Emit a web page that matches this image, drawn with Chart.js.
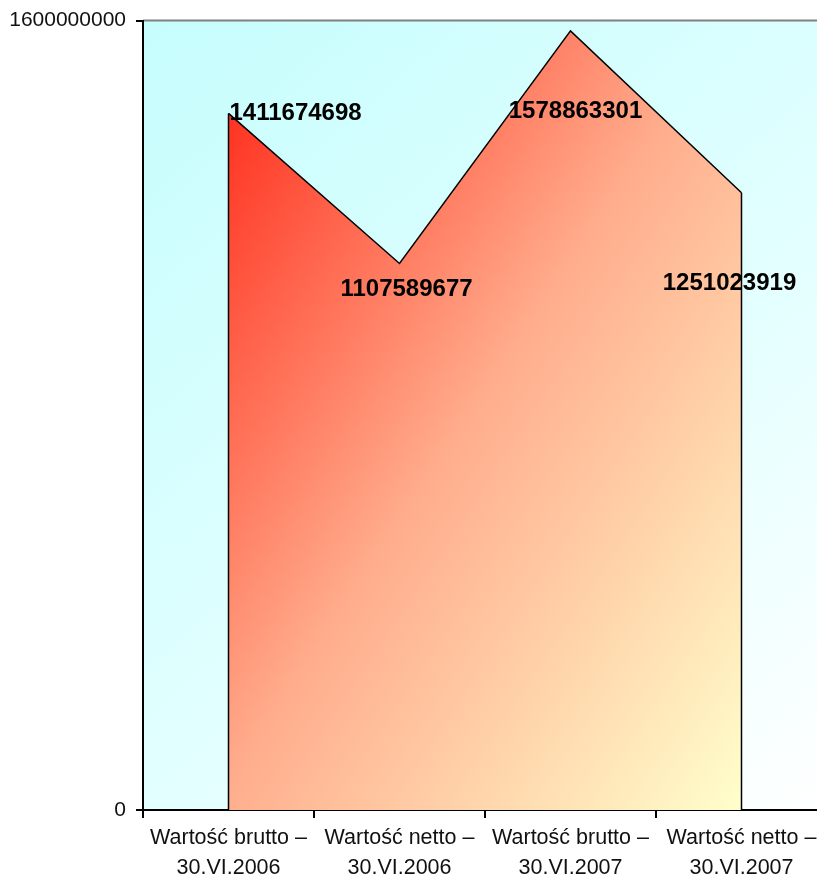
<!DOCTYPE html>
<html>
<head>
<meta charset="utf-8">
<script src="https://cdn.jsdelivr.net/npm/chart.js@4"></script>
<style>
  html, body { margin: 0; padding: 0; background: #fff; overflow: hidden; }
  #wrap { width: 827px; height: 882px; }
</style>
</head>
<body>
<div id="wrap"><canvas id="chart" width="827" height="882"></canvas></div>
<script>
// chart data
const categories = [
    ['Wartość brutto –', '30.VI.2006'],
    ['Wartość netto –', '30.VI.2006'],
    ['Wartość brutto –', '30.VI.2007'],
    ['Wartość netto –', '30.VI.2007']
];
const values = [1411674698, 1107589677, 1578863301, 1251023919];
const yTicks = [0, 1600000000];

// where each value label sits relative to its point (dx, dy, align)
const labelOffsets = [
    { dx: 1, dy: 0, align: 'left' },
    { dx: 7, dy: 26, align: 'center' },
    { dx: 5, dy: 80, align: 'center' },
    { dx: -12, dy: 91, align: 'center' }
];

const plotBackground = {
    id: 'plotBackground',
    beforeDraw(chart) {
        const { ctx, chartArea: a } = chart;
        const g = ctx.createLinearGradient(a.left, a.top, a.right, a.bottom);
        g.addColorStop(0, '#c6fdfd');
        g.addColorStop(0.6, '#e4ffff');
        g.addColorStop(1, '#ffffff');
        ctx.save();
        ctx.fillStyle = g;
        ctx.fillRect(a.left, a.top, a.right - a.left, a.bottom - a.top);
        // top border
        ctx.strokeStyle = '#808080';
        ctx.lineWidth = 2;
        ctx.beginPath();
        ctx.moveTo(a.left, a.top);
        ctx.lineTo(a.right, a.top);
        ctx.stroke();
        ctx.restore();
    }
};

const areaEdges = {
    id: 'areaEdges',
    afterDatasetsDraw(chart) {
        const { ctx } = chart;
        const pts = chart.getDatasetMeta(0).data;
        const y0 = chart.scales.y.getPixelForValue(0);
        ctx.save();
        ctx.strokeStyle = '#000';
        ctx.lineWidth = 1.5;
        [pts[0], pts[pts.length - 1]].forEach(p => {
            ctx.beginPath();
            ctx.moveTo(p.x, p.y);
            ctx.lineTo(p.x, y0);
            ctx.stroke();
        });
        // value labels
        ctx.fillStyle = '#000';
        ctx.font = 'bold 24px "Liberation Sans", Arial, sans-serif';
        ctx.textBaseline = 'middle';
        pts.forEach((p, i) => {
            const o = labelOffsets[i];
            ctx.textAlign = o.align;
            ctx.fillText(String(values[i]), p.x + o.dx, p.y + o.dy);
        });
        ctx.restore();
    }
};

const ctx = document.getElementById('chart').getContext('2d');
new Chart(ctx, {
    type: 'line',
    data: {
        labels: categories,
        datasets: [{
            data: values,
            fill: 'origin',
            borderColor: '#000',
            borderWidth: 1.5,
            tension: 0,
            pointRadius: 0,
            backgroundColor: function(context) {
                const chart = context.chart;
                const a = chart.chartArea;
                if (!a) return '#ff9977';
                const x = chart.scales.x, y = chart.scales.y;
                // bounding box of the filled area
                const x0 = x.getPixelForValue(0);
                const x1 = x.getPixelForValue(values.length - 1);
                const y0 = y.getPixelForValue(Math.max(...values));
                const y1 = y.getPixelForValue(0);
                const W = x1 - x0, H = y1 - y0;
                const k = 2 * W * H / (W * W + H * H);
                const g = chart.ctx.createLinearGradient(x0, y0, x0 + H * k, y0 + W * k);
                g.addColorStop(0, '#ff2414');
                g.addColorStop(0.48, '#ffac8c');
                g.addColorStop(1, '#ffffcc');
                return g;
            }
        }]
    },
    options: {
        responsive: false,
        animation: false,
        layout: { padding: { top: 20, left: 0, right: 0, bottom: 0 } },
        plugins: {
            legend: { display: false },
            tooltip: { enabled: false }
        },
        scales: {
            x: {
                offset: true,
                grid: {
                    offset: true,
                    drawOnChartArea: false,
                    color: '#000',
                    lineWidth: 2,
                    tickLength: 8
                },
                border: { color: '#000', width: 2 },
                ticks: {
                    color: '#111',
                    font: { family: '"Liberation Sans", Arial, sans-serif', size: 21.5, lineHeight: 1.4 },
                    padding: 5,
                    maxRotation: 0,
                    autoSkip: false
                },
                afterFit(scale) { scale.height = 72; }
            },
            y: {
                min: 0,
                max: 1600000000,
                afterBuildTicks(scale) {
                    scale.ticks = yTicks.map(v => ({ value: v }));
                },
                grid: {
                    drawOnChartArea: false,
                    color: '#000',
                    lineWidth: 2,
                    tickLength: 7
                },
                border: { color: '#000', width: 2 },
                ticks: {
                    color: '#111',
                    font: { family: '"Liberation Sans", Arial, sans-serif', size: 21, lineHeight: 1 },
                    padding: 10,
                    callback: v => String(v)
                },
                afterFit(scale) { scale.width = 143; }
            }
        }
    },
    plugins: [plotBackground, areaEdges]
});
</script>
</body>
</html>
